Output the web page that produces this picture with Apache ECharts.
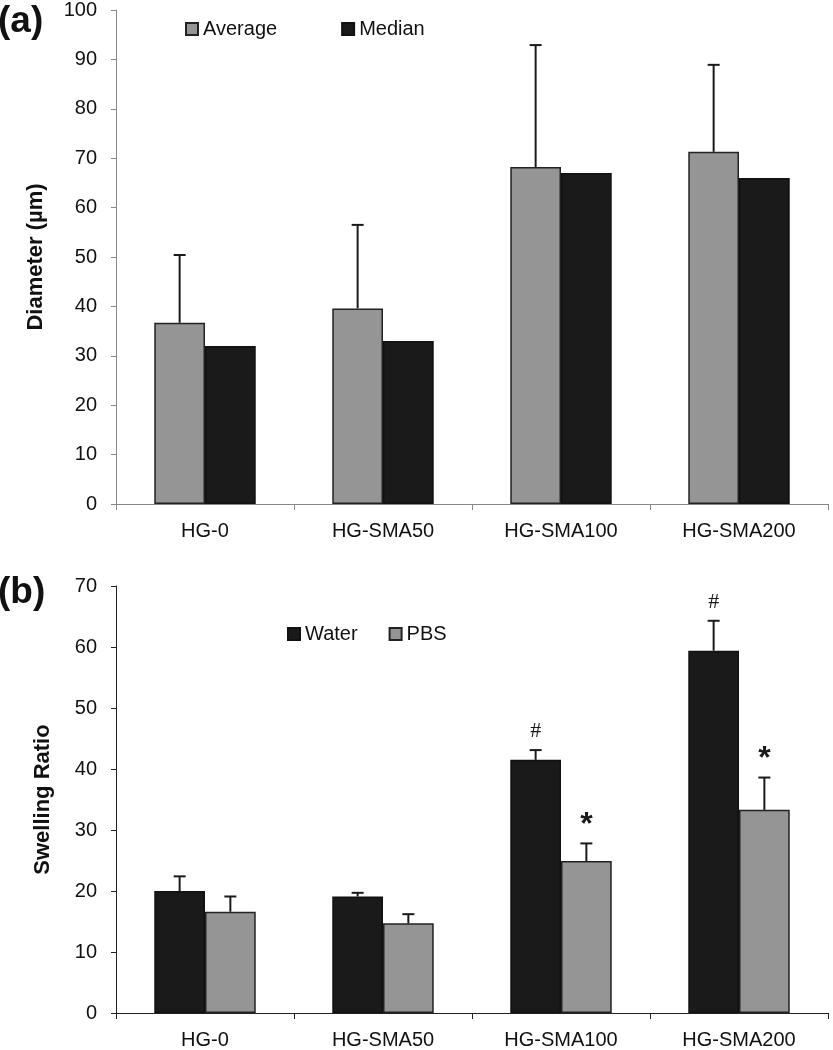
<!DOCTYPE html>
<html><head><meta charset="utf-8">
<script src="https://cdn.jsdelivr.net/npm/echarts@6/dist/echarts.min.js"></script>
<style>html,body{margin:0;padding:0;background:#fff}#c{width:833px;height:1050px}</style>
</head><body><div id="c"></div>
<script>
const categories = ['HG-0', 'HG-SMA50', 'HG-SMA100', 'HG-SMA200'];
const avgDiameter = [36.7, 39.6, 68.2, 71.3];
const avgDiameterErrTop = [50.4, 56.5, 92.9, 88.9];
const medianDiameter = [32, 33, 67, 66];
const waterSwelling = [20.0, 19.1, 41.5, 59.4];
const waterSwellingErrTop = [22.4, 19.7, 43.1, 64.3];
const pbsSwelling = [16.6, 14.7, 24.9, 33.3];
const pbsSwellingErrTop = [19.1, 16.2, 27.8, 38.6];
const waterMarks = ['', '', '#', '#'];
const pbsMarks = ['', '', '*', '*'];

const GRAY = '#959595', BLACK = '#1a1a1a';
const BAR_FRAC = 0.285;
const FONT = 'Liberation Sans, Arial, sans-serif';

function errSeries(xIdx, yIdx, vals, tops, side, marks) {
  return {
    type: 'custom', xAxisIndex: xIdx, yAxisIndex: yIdx, z: 5,
    data: vals.map((v, i) => [i, v, tops[i]]),
    encode: { x: 0, y: 1 },
    renderItem: function (params, api) {
      const base = api.coord([api.value(0), api.value(1)]);
      const top = api.coord([api.value(0), api.value(2)]);
      const bw = api.size([1, 0])[0];
      const cx = base[0] + side * bw * BAR_FRAC / 2;
      const children = [
        { type: 'line', shape: { x1: cx, y1: base[1], x2: cx, y2: top[1] }, style: { stroke: BLACK, lineWidth: 2 } },
        { type: 'line', shape: { x1: cx - 6, y1: top[1], x2: cx + 6, y2: top[1] }, style: { stroke: BLACK, lineWidth: 2 } }
      ];
      const m = marks ? marks[params.dataIndex] : '';
      if (m) {
        const star = m === '*';
        children.push({ type: 'text', x: cx, y: top[1] - (star ? 2 : 8), style: {
          text: m, fill: BLACK, align: 'center', verticalAlign: 'bottom',
          font: star ? 'bold 32px ' + FONT : '22px "Liberation Serif", serif'
        }});
      }
      return { type: 'group', children: children };
    }
  };
}

const axisLabelStyle = { color: '#111', fontSize: 20, fontFamily: FONT };
const titleStyle = { fontSize: 37, fontWeight: 'bold', color: '#111', fontFamily: FONT };

const option = {
  animation: false,
  title: [
    { text: '(a)', left: -2, top: 3, padding: 0, textStyle: titleStyle },
    { text: '(b)', left: -2, top: 574, padding: 0, textStyle: titleStyle }
  ],
  legend: [
    { data: ['Average', 'Median'], left: 180, top: 14, itemGap: 64, itemWidth: 12, itemHeight: 12, icon: 'rect',
      textStyle: { fontSize: 20, color: '#111', fontFamily: FONT } },
    { data: ['Water', 'PBS'], left: 282, top: 619, itemGap: 31, itemWidth: 12, itemHeight: 12, icon: 'rect',
      textStyle: { fontSize: 20, color: '#111', fontFamily: FONT } }
  ],
  grid: [
    { left: 116, top: 10, right: 5, height: 494 },
    { left: 116, top: 586, right: 5, height: 433 }
  ],
  xAxis: [0, 1].map(i => ({
    type: 'category', gridIndex: i, data: categories,
    axisLine: { lineStyle: { color: i === 0 ? '#888' : '#222', width: 1 } },
    axisTick: { show: true, length: 6, lineStyle: { color: i === 0 ? '#888' : '#222' } },
    axisLabel: Object.assign({ margin: 17 }, axisLabelStyle)
  })),
  yAxis: [
    { type: 'value', gridIndex: 0, min: 0, max: 100, interval: 10,
      name: 'Diameter (µm)', nameLocation: 'middle', nameGap: 69, nameRotate: 90,
      nameTextStyle: { fontSize: 22, fontWeight: 'bold', color: '#111', fontFamily: FONT },
      axisLine: { show: true, lineStyle: { color: '#888' } },
      axisTick: { show: true, length: 5, lineStyle: { color: '#888' } },
      splitLine: { show: false },
      axisLabel: Object.assign({ margin: 19 }, axisLabelStyle) },
    { type: 'value', gridIndex: 1, min: 0, max: 70, interval: 10,
      name: 'Swelling Ratio', nameLocation: 'middle', nameGap: 62, nameRotate: 90,
      nameTextStyle: { fontSize: 22, fontWeight: 'bold', color: '#111', fontFamily: FONT },
      axisLine: { show: true, lineStyle: { color: '#222' } },
      axisTick: { show: true, length: 5, lineStyle: { color: '#222' } },
      splitLine: { show: false },
      axisLabel: Object.assign({ margin: 19 }, axisLabelStyle) }
  ],
  series: [
    { name: 'Average', type: 'bar', xAxisIndex: 0, yAxisIndex: 0, data: avgDiameter,
      barWidth: (BAR_FRAC * 100) + '%', barGap: '0%',
      itemStyle: { color: GRAY, borderColor: '#222', borderWidth: 1.5 } },
    { name: 'Median', type: 'bar', xAxisIndex: 0, yAxisIndex: 0, data: medianDiameter,
      barWidth: (BAR_FRAC * 100) + '%', barGap: '0%',
      itemStyle: { color: BLACK, borderColor: '#111', borderWidth: 1.5 } },
    errSeries(0, 0, avgDiameter, avgDiameterErrTop, -1, null),
    { name: 'Water', type: 'bar', xAxisIndex: 1, yAxisIndex: 1, data: waterSwelling,
      barWidth: (BAR_FRAC * 100) + '%', barGap: '0%',
      itemStyle: { color: BLACK, borderColor: '#111', borderWidth: 1.5 } },
    { name: 'PBS', type: 'bar', xAxisIndex: 1, yAxisIndex: 1, data: pbsSwelling,
      barWidth: (BAR_FRAC * 100) + '%', barGap: '0%',
      itemStyle: { color: GRAY, borderColor: '#222', borderWidth: 1.5 } },
    errSeries(1, 1, waterSwelling, waterSwellingErrTop, -1, waterMarks),
    errSeries(1, 1, pbsSwelling, pbsSwellingErrTop, 1, pbsMarks)
  ]
};
const chart = echarts.init(document.getElementById('c'), null, { renderer: 'canvas' });
chart.setOption(option);
</script></body></html>
